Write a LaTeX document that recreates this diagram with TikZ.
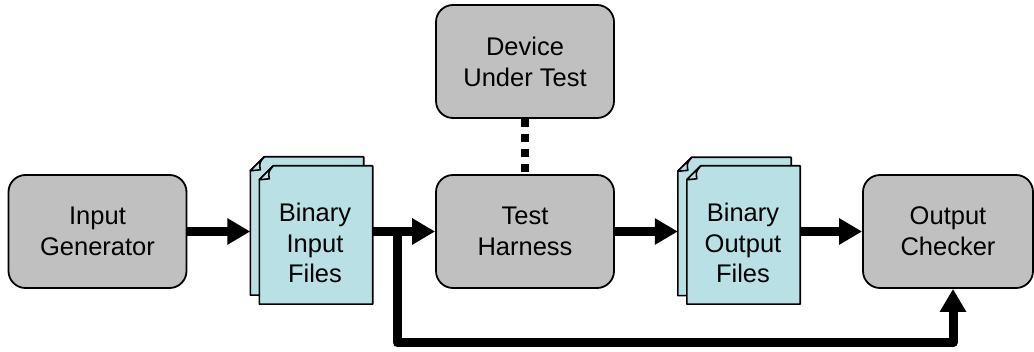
\documentclass[tikz,border=0pt]{standalone}
\usepackage{fontspec}
\setmainfont{Liberation Sans}
\usetikzlibrary{arrows.meta,backgrounds,calc}
\definecolor{boxgray}{RGB}{192,192,192}
\definecolor{pagecyan}{RGB}{185,224,229}
\tikzset{
  stage/.style={draw=black, line width=1.8pt, fill=boxgray, rounded corners=17pt,
    minimum width=178pt, minimum height=113pt, inner sep=0pt, align=center,
    font=\fontsize{25.5}{31}\selectfont},
  pagebox/.style={minimum width=113pt, minimum height=138pt, inner sep=0pt},
  pagetext/.style={inner sep=0pt, align=center, font=\fontsize{25.5}{30.5}\selectfont},
  pageline/.style={draw=black, line width=1.6pt, fill=pagecyan, line join=round},
  flow/.style={draw=black, line width=9pt, line join=round,
    -{Triangle[length=23pt,width=25pt]}},
  link/.style={draw=black, line width=8pt, dash pattern=on 8pt off 7pt}
}
% page outline with a folded top-left corner
\newcommand\docpage[1]{%
  \path[pageline] (#1.south west) -- (#1.south east) -- (#1.north east)
    -- ([xshift=14pt]#1.north west) -- ([yshift=-14pt]#1.north west) -- cycle;
  \path[pageline] ([xshift=14pt]#1.north west)
    .. controls ([xshift=9pt,yshift=-6pt]#1.north west) .. ([xshift=10pt,yshift=-13pt]#1.north west)
    -- ([yshift=-14pt]#1.north west) -- cycle;
}
\begin{document}
\begin{tikzpicture}[x=1pt,y=-1pt]
\useasboundingbox (0,0) rectangle (1034,352);

% process stages
\node[stage] (gen) at (97.5,231.5) {Input\\Generator};
\node[stage] (dut) at (525,61.5) {Device\\Under Test};
\node[stage] (th) at (525,231.5) {Test\\Harness};
\node[stage, minimum width=170pt] (oc) at (948,231.5) {Output\\Checker};

% file stacks
\node[pagebox] (doc1b) at (307,226) {};
\node[pagebox] (doc1f) at (316,235) {};
\node[pagetext] (doc1t) at (315,243) {Binary\\Input\\Files};
\node[pagebox] (doc2b) at (734.5,226.5) {};
\node[pagebox] (doc2f) at (743.5,235) {};
\node[pagetext] (doc2t) at (743,243) {Binary\\Output\\Files};
\begin{scope}[on background layer]
  \docpage{doc1b}
  \docpage{doc1f}
  \docpage{doc2b}
  \docpage{doc2f}
\end{scope}

% connectors
\draw[link] (dut.south) -- (th.north);
\draw[flow] (gen.east) -- (gen.east -| doc1b.west);
\draw[flow] (doc1f.east |- th.west) -- (th.west);
\draw[flow] (th.east) -- (th.east -| doc2b.west);
\draw[flow] (doc2f.east |- oc.west) -- (oc.west);
\coordinate (split) at (397,231.5);
\coordinate (low) at (397,343);
\draw[flow] (split) -- (low) -| ([xshift=5pt]oc.south);
\end{tikzpicture}
\end{document}
